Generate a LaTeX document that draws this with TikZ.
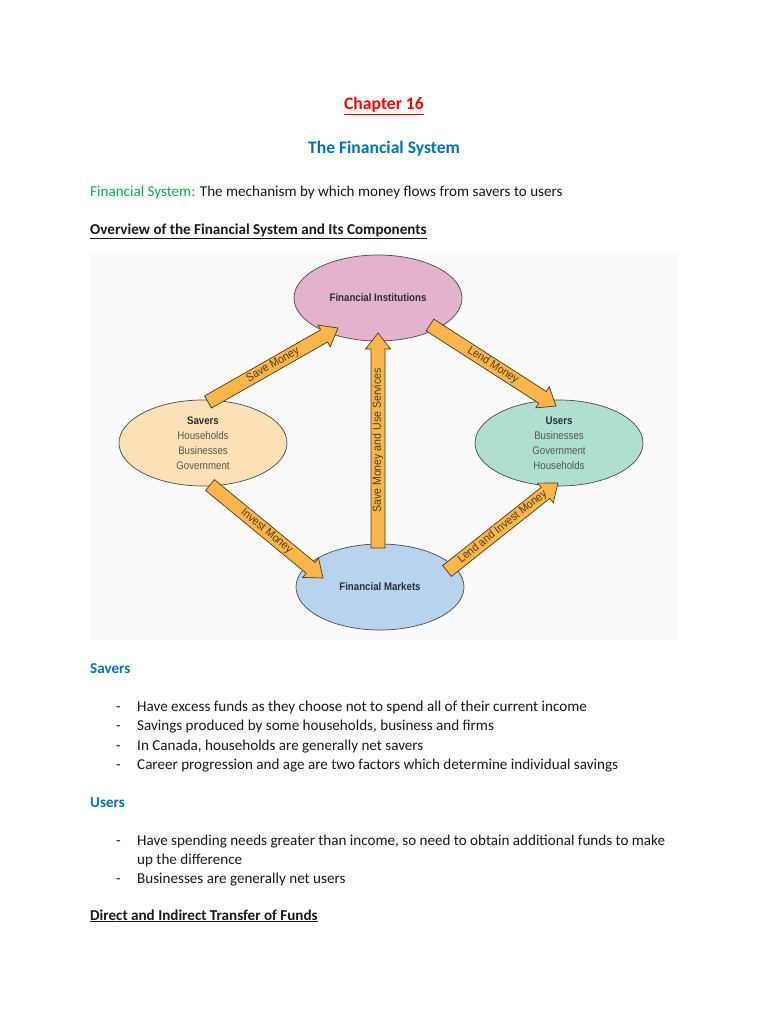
\documentclass[tikz,border=0pt]{standalone}
\usepackage{fontspec}
\setmainfont{Carlito}
\newfontfamily\diagfont{Liberation Sans}
\usetikzlibrary{shapes.geometric,calc}
\definecolor{chapred}{HTML}{FF0000}
\definecolor{headblue}{HTML}{0070C0}
\definecolor{defgreen}{HTML}{00B050}
\definecolor{bodytext}{HTML}{1A1A1A}
\definecolor{fipink}{HTML}{E4B2CD}
\definecolor{saverfill}{HTML}{FDE1B6}
\definecolor{userfill}{HTML}{AEDFD0}
\definecolor{marketfill}{HTML}{B8D3EE}
\definecolor{arrowfill}{HTML}{FBB54B}
\definecolor{edgegray}{HTML}{4A4A4A}
\definecolor{labelbrown}{HTML}{4D3A1A}
\definecolor{diagtitle}{HTML}{2B2B3B}
\definecolor{diagsub}{HTML}{555555}
\definecolor{diagbg}{HTML}{FAFAFA}
\newcommand\cond[1]{\scalebox{0.88}[1]{#1}}
\newcommand\arrcond[1]{\scalebox{0.92}[1]{#1}}
\newcommand\blockarrow[3]{%
  \coordinate (#1-#2-h) at ($(#2)!16pt!(#1)$);
  \filldraw[arrowbox] ($(#1)!7pt!90:(#2)$) -- ($(#1-#2-h)!7pt!90:(#2)$)
    -- ($(#1-#2-h)!12.5pt!90:(#2)$) -- (#2) -- ($(#1-#2-h)!12.5pt!-90:(#2)$)
    -- ($(#1-#2-h)!7pt!-90:(#2)$) -- ($(#1)!7pt!-90:(#2)$) -- cycle;
  \path (#1) -- (#2) node[pos=0.5, sloped, arrowlabel] {\arrcond{#3}};
}
\begin{document}
\begin{tikzpicture}[x=1pt,y=-1pt,
  body/.style={font=\fontsize{15.1}{18}\selectfont, text=bodytext, inner sep=0pt, anchor=base west},
  bighead/.style={font=\fontsize{17.6}{21}\selectfont\bfseries, inner sep=0pt, anchor=base},
  subhead/.style={font=\fontsize{15.1}{18}\selectfont\bfseries, inner sep=0pt, anchor=base west},
  oval/.style={ellipse, draw=edgegray, line width=0.7pt, minimum width=168pt, minimum height=86pt, inner sep=0pt, align=center, font=\diagfont\fontsize{11}{15}\selectfont, text=diagsub},
  arrowbox/.style={fill=arrowfill, draw=labelbrown, line width=0.7pt, line join=miter},
  arrowlabel/.style={font=\diagfont\fontsize{11.5}{12}\selectfont, text=labelbrown, inner sep=0pt}
]
\useasboundingbox[fill=white] (0,0) rectangle (768,1024);

% headings
\node[bighead, text=chapred] (chap) at (384,110) {\underline{Chapter 16}};
\node[bighead, text=headblue] (title) at (384,154) {The Financial System};
\node[body] (def) at (90,197) {\textcolor{defgreen}{Financial System:} The mechanism by which money flows from savers to users};
\node[subhead, text=bodytext] (ovw) at (90,234) {\underline{Overview of the Financial System and Its Components}};

% diagram background
\fill[diagbg] (90,253) rectangle (677,640);

% ovals
\node[oval, fill=fipink] (fi) at (378,298) {\textcolor{diagtitle}{\cond{\bfseries Financial Institutions}}};
\node[oval, fill=saverfill] (sav) at (203,443) {\textcolor{diagtitle}{\cond{\bfseries Savers}}\\\cond{Households}\\\cond{Businesses}\\\cond{Government}};
\node[oval, fill=userfill] (usr) at (559,443) {\textcolor{diagtitle}{\cond{\bfseries Users}}\\\cond{Businesses}\\\cond{Government}\\\cond{Households}};
\node[oval, fill=marketfill] (fm) at (380,587) {\textcolor{diagtitle}{\cond{\bfseries Financial Markets}}};

% arrow end points
\coordinate (smT) at (208,402);
\coordinate (smH) at (338,328);
\coordinate (lmT) at (430,325);
\coordinate (lmH) at (556,406);
\coordinate (imT) at (210,485);
\coordinate (imH) at (323,578);
\coordinate (liT) at (447,571);
\coordinate (liH) at (558,483);
\coordinate (suT) at (378,548);
\coordinate (suH) at (378,333);

\blockarrow{smT}{smH}{Save Money}
\blockarrow{lmT}{lmH}{Lend Money}
\blockarrow{imT}{imH}{Invest Money}
\blockarrow{liT}{liH}{Lend and Invest Money}
\blockarrow{suT}{suH}{Save Money and Use Services}

% Savers section
\node[subhead, text=headblue] (savh) at (90,673) {Savers};
\node[body] (d1) at (116,711) {-};
\node[body] (s1) at (137,711) {Have excess funds as they choose not to spend all of their current income};
\node[body] (d2) at (116,730) {-};
\node[body] (s2) at (137,730) {Savings produced by some households, business and firms};
\node[body] (d3) at (116,750) {-};
\node[body] (s3) at (137,750) {In Canada, households are generally net savers};
\node[body] (d4) at (116,769) {-};
\node[body] (s4) at (137,769) {Career progression and age are two factors which determine individual savings};

% Users section
\node[subhead, text=headblue] (usrh) at (90,807) {Users};
\node[body] (d5) at (116,845) {-};
\node[body] (u1) at (137,845) {Have spending needs greater than income, so need to obtain additional funds to make};
\node[body] (u1b) at (137,864) {up the difference};
\node[body] (d6) at (116,883) {-};
\node[body] (u2) at (137,883) {Businesses are generally net users};

\node[subhead, text=bodytext] (dit) at (90,920) {\underline{Direct and Indirect Transfer of Funds}};
\end{tikzpicture}
\end{document}
